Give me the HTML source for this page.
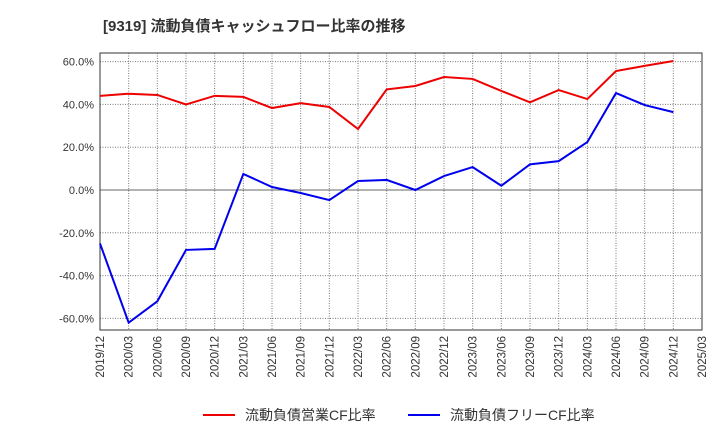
<!DOCTYPE html>
<html><head><meta charset="utf-8"><style>
body{margin:0;background:#fff;font-family:"Liberation Sans","Noto Sans CJK JP",sans-serif;}
</style></head><body>
<svg id="chart" width="720" height="440" xmlns="http://www.w3.org/2000/svg">
<text x="103" y="31" font-size="15" font-weight="bold" fill="#333" font-family="Liberation Sans, Noto Sans CJK JP, sans-serif">[9319]  流動負債キャッシュフロー比率の推移</text>
<g id="grid"></g><g id="axes"></g><g id="series"></g>
<g>
<line x1="203" y1="415" x2="235" y2="415" stroke="#e00" stroke-width="2"/>
<text x="245" y="420" font-size="14" fill="#333">流動負債営業CF比率</text>
<line x1="408" y1="415" x2="440" y2="415" stroke="#00e" stroke-width="2"/>
<text x="450" y="420" font-size="14" fill="#333">流動負債フリーCF比率</text>
</g>
</svg>
<script>
const xLabels=["2019/12","2020/03","2020/06","2020/09","2020/12","2021/03","2021/06","2021/09","2021/12","2022/03","2022/06","2022/09","2022/12","2023/03","2023/06","2023/09","2023/12","2024/03","2024/06","2024/09","2024/12","2025/03"];
const yTicks=[60,40,20,0,-20,-40,-60];
const opCF=[44,45,44.4,40,44,43.5,38.3,40.6,38.8,28.5,47,48.6,52.8,51.9,46.3,41,46.7,42.5,55.6,58,60.3];
const freeCF=[-25,-62,-52,-28,-27.5,7.5,1.4,-1.4,-4.7,4.2,4.7,0,6.5,10.7,2,12,13.5,22.4,45.3,39.7,36.4];
const L=100,R=702,T=53,B=330;
const xs=i=>L+i*(R-L)/(xLabels.length-1);
const ys=v=>190-v*2.14;
const NS="http://www.w3.org/2000/svg";
function mk(tag,attrs,parent,text){const e=document.createElementNS(NS,tag);for(const k in attrs)e.setAttribute(k,attrs[k]);if(text!==undefined)e.textContent=text;document.getElementById(parent).appendChild(e);return e;}
xLabels.forEach((lab,i)=>{
 const x=xs(i);
 if(i>0&&i<xLabels.length-1){const g=mk('line',{x1:x,x2:x,y1:T,y2:B,stroke:'#777','stroke-dasharray':'1,1.5'},'grid');
 
 }
 const t=mk('text',{x:0,y:0,'font-size':11.5,fill:'#333','text-anchor':'end',transform:`translate(${x+4},${B+6}) rotate(-90)`},'axes',lab);
 
 
});
yTicks.forEach(v=>{
 const y=ys(v);
 const g=mk('line',{x1:L,x2:R,y1:y,y2:y,stroke:v===0?'#666':'#777','stroke-dasharray':v===0?'':'1,1.5'},'grid');
 
 
 const t=mk('text',{x:L-6,y:y+4,'font-size':11,fill:'#333','text-anchor':'end'},'axes',v.toFixed(1)+'%');
 
 
});
const fr=mk('rect',{x:L,y:T,width:R-L,height:B-T,fill:'none',stroke:'#333'},'axes');


function line(data,color,name){
 const p=mk('polyline',{points:data.map((v,i)=>xs(i)+','+ys(v)).join(' '),fill:'none',stroke:color,'stroke-width':2},'series');
 
 
}
line(opCF,'#e00','operating-cf-ratio-line');
line(freeCF,'#00e','free-cf-ratio-line');
</script>
</body></html>
